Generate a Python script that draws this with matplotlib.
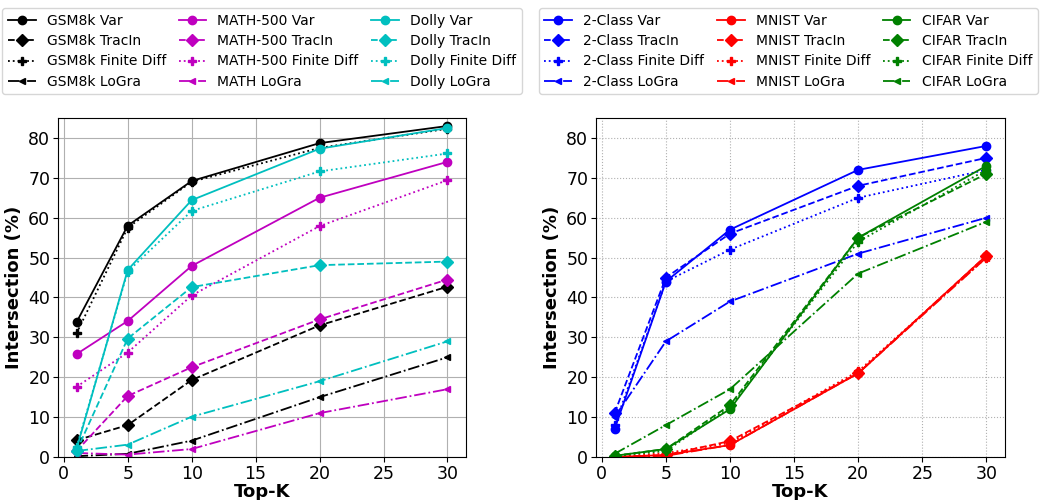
import matplotlib.pyplot as plt
import numpy as np

topk = [1, 5, 10, 20, 30]

# left panel: LLM datasets
gsm_var = [33.8, 58.0, 69.2, 78.7, 83.0]
gsm_tracin = [4.2, 8.0, 19.3, 33.0, 42.7]
gsm_fd = [31.0, 57.5, 69.0, 77.5, 82.3]
gsm_logra = [0.2, 0.8, 4.1, 15.0, 25.0]

math_var = [25.8, 34.1, 47.9, 65.0, 74.0]
math_tracin = [1.5, 15.3, 22.5, 34.5, 44.5]
math_fd = [17.6, 26.2, 40.5, 57.9, 69.4]
math_logra = [1.0, 0.6, 2.0, 11.0, 17.0]

dolly_var = [2.0, 46.9, 64.4, 77.3, 82.5]
dolly_tracin = [1.5, 29.7, 42.6, 48.1, 49.0]
dolly_fd = [2.5, 46.5, 61.7, 71.6, 76.1]
dolly_logra = [1.5, 3.1, 10.1, 19.0, 29.0]

# right panel: vision datasets
c2_var = [7.0, 44.0, 57.0, 72.0, 78.0]
c2_tracin = [11.0, 45.0, 56.0, 68.0, 75.0]
c2_fd = [8.0, 44.0, 52.0, 65.0, 72.0]
c2_logra = [10.0, 29.0, 39.0, 51.0, 60.0]

mnist_var = [0.0, 0.5, 3.0, 21.0, 50.5]
mnist_tracin = [0.0, 0.5, 4.0, 21.0, 50.5]
mnist_fd = [0.0, 1.0, 3.5, 21.5, 50.0]
mnist_logra = [0.0, 0.3, 3.0, 21.0, 50.0]

cifar_var = [0.3, 2.0, 12.0, 55.0, 73.0]
cifar_tracin = [0.3, 2.0, 13.0, 55.0, 71.0]
cifar_fd = [0.3, 1.5, 12.5, 54.0, 72.0]
cifar_logra = [0.8, 8.0, 17.0, 46.0, 59.0]

methods = ["Var", "TracIn", "Finite Diff", "LoGra"]
styles = [("-", "o", 6), ("--", "D", 6), (":", "P", 6), ("-.", "<", 5)]

left = [("GSM8k", "k", [gsm_var, gsm_tracin, gsm_fd, gsm_logra]),
        ("MATH-500", "m", [math_var, math_tracin, math_fd, math_logra]),
        ("Dolly", "c", [dolly_var, dolly_tracin, dolly_fd, dolly_logra])]
right = [("2-Class", "b", [c2_var, c2_tracin, c2_fd, c2_logra]),
         ("MNIST", "r", [mnist_var, mnist_tracin, mnist_fd, mnist_logra]),
         ("CIFAR", "g", [cifar_var, cifar_tracin, cifar_fd, cifar_logra])]

fig = plt.figure(figsize=(10.45, 5), dpi=100)
ax1 = fig.add_axes([58 / 1045, 43 / 500, 408 / 1045, 339 / 500])
ax2 = fig.add_axes([596 / 1045, 43 / 500, 409 / 1045, 339 / 500])

for ax, groups, gridls, anchor in [(ax1, left, "-", 0.5), (ax2, right, ":", 0.47)]:
    for name, col, series in groups:
        for m, vals, (ls, mk, ms) in zip(methods, series, styles):
            label = name + " " + m
            if name == "MATH-500" and m == "LoGra":
                label = "MATH LoGra"
            ax.plot(topk, vals, color=col, linestyle=ls, marker=mk,
                    markersize=ms, linewidth=1.3, label=label)
    ax.set_ylim(0, 85)
    ax.set_xticks([0, 5, 10, 15, 20, 25, 30])
    ax.tick_params(labelsize=12.5, pad=2)
    ax.grid(True, linestyle=gridls, color="#b0b0b0", linewidth=0.8)
    ax.set_xlabel("Top-K", fontsize=13, fontweight="bold", labelpad=0)
    ax.set_ylabel("Intersection (%)", fontsize=13, fontweight="bold")
    ax.legend(loc="lower center", bbox_to_anchor=(anchor, 1.07), ncol=3,
              fontsize=10, handlelength=2.0, columnspacing=0.9,
              handletextpad=0.8, borderaxespad=0, labelspacing=0.45)

fig.savefig("out.png", dpi=100)
